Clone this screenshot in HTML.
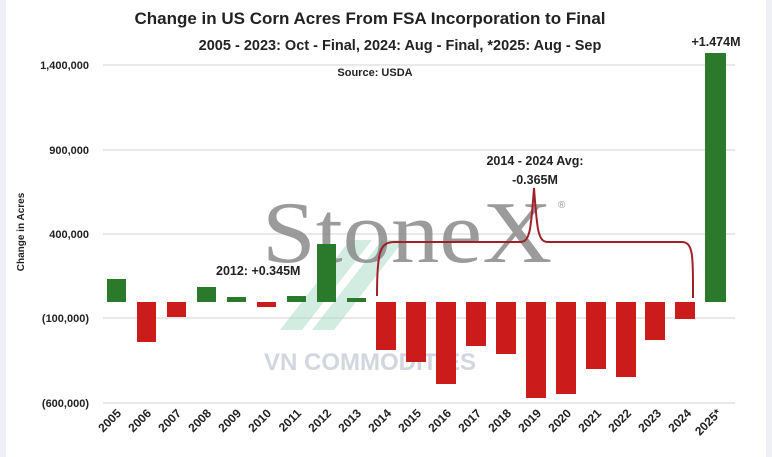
<!DOCTYPE html>
<html><head><style>body{margin:0;background:#fff}svg{display:block}</style></head><body>
<svg width="772" height="457" xmlns="http://www.w3.org/2000/svg" font-family="Liberation Sans, sans-serif">
<rect width="772" height="457" fill="#fff"/>
<rect x="0" y="0" width="6" height="457" fill="#eef0f5"/>
<rect x="766" y="0" width="6" height="457" fill="#eef0f5"/>
<text x="370" y="24" text-anchor="middle" font-size="17" font-weight="bold" fill="#222">Change in US Corn Acres From FSA Incorporation to Final</text>
<text x="400" y="50" text-anchor="middle" font-size="14.5" font-weight="bold" fill="#222">2005 - 2023: Oct - Final, 2024:  Aug - Final, *2025: Aug - Sep</text>
<text x="375" y="76" text-anchor="middle" font-size="11" font-weight="bold" fill="#222">Source: USDA</text>
<g stroke="#dcdcdc" stroke-width="1.2">
<line x1="103" x2="735" y1="65" y2="65"/><line x1="103" x2="735" y1="150" y2="150"/><line x1="103" x2="735" y1="234" y2="234"/><line x1="103" x2="735" y1="318" y2="318"/><line x1="103" x2="735" y1="403" y2="403"/>
</g>
<g font-size="11" font-weight="bold" fill="#222" text-anchor="end">
<text x="89" y="69">1,400,000</text><text x="89" y="154">900,000</text><text x="89" y="238">400,000</text><text x="89" y="322">(100,000)</text><text x="89" y="407">(600,000)</text>
</g>
<text transform="translate(24,232) rotate(-90)" text-anchor="middle" font-size="10" font-weight="bold" fill="#222">Change in Acres</text>
<!-- watermark -->
<g fill="#9ed6c0" opacity="0.45"><polygon points="280,330 302,330 372,240 350,240"/><polygon points="312,330 334,330 404,240 382,240"/></g>
<text x="262" y="262" font-family="Liberation Serif, serif" font-size="88" fill="#8a8a8a" opacity="0.85" textLength="290" lengthAdjust="spacingAndGlyphs">StoneX</text>
<text x="558" y="208" font-size="10" fill="#999">®</text>
<text x="370" y="370" text-anchor="middle" font-size="24" font-weight="bold" fill="#c8ccd8" opacity="0.8">VN COMMODITIES</text>
<!-- bars -->
<g fill="#2b7a2b">
<rect x="107" y="279" width="19" height="23"/><rect x="197" y="287" width="19" height="15"/><rect x="227" y="297" width="19" height="5"/><rect x="287" y="296" width="19" height="6"/><rect x="317" y="244" width="19" height="58"/><rect x="347" y="298" width="19" height="4"/><rect x="705" y="53" width="21" height="249"/>
</g>
<g fill="#cc1b1b">
<rect x="137" y="302" width="19" height="40"/><rect x="167" y="302" width="19" height="15"/><rect x="257" y="302" width="19" height="5"/>
<rect x="376" y="302" width="20" height="48"/><rect x="406" y="302" width="20" height="60"/><rect x="436" y="302" width="20" height="82"/><rect x="466" y="302" width="20" height="44"/><rect x="496" y="302" width="20" height="52"/><rect x="526" y="302" width="20" height="96"/><rect x="556" y="302" width="20" height="92"/><rect x="586" y="302" width="20" height="67"/><rect x="616" y="302" width="20" height="75"/><rect x="645" y="302" width="20" height="38"/><rect x="675" y="302" width="20" height="17"/>
</g>
<!-- bracket -->
<path d="M377,296 C377,250 380,242 395,242 L520,242 C530,242 531,230 534,188 C537,230 538,242 548,242 L682,242 C694,242 693,260 693,298" fill="none" stroke="#a0202a" stroke-width="2"/>
<text x="535" y="165" text-anchor="middle" font-size="12.5" font-weight="bold" fill="#222">2014 - 2024 Avg:</text>
<text x="535" y="184" text-anchor="middle" font-size="12.5" font-weight="bold" fill="#222">-0.365M</text>
<text x="216" y="275" font-size="12.5" font-weight="bold" fill="#222">2012: +0.345M</text>
<text x="716" y="46" text-anchor="middle" font-size="12.5" font-weight="bold" fill="#222">+1.474M</text>
<!-- year labels -->
<g font-size="12" font-weight="bold" fill="#222" text-anchor="end">
<text transform="translate(122,414) rotate(-45)">2005</text><text transform="translate(152,414) rotate(-45)">2006</text><text transform="translate(182,414) rotate(-45)">2007</text><text transform="translate(212,414) rotate(-45)">2008</text><text transform="translate(242,414) rotate(-45)">2009</text><text transform="translate(272,414) rotate(-45)">2010</text><text transform="translate(302,414) rotate(-45)">2011</text><text transform="translate(332,414) rotate(-45)">2012</text><text transform="translate(362,414) rotate(-45)">2013</text><text transform="translate(392,414) rotate(-45)">2014</text><text transform="translate(422,414) rotate(-45)">2015</text><text transform="translate(452,414) rotate(-45)">2016</text><text transform="translate(482,414) rotate(-45)">2017</text><text transform="translate(512,414) rotate(-45)">2018</text><text transform="translate(542,414) rotate(-45)">2019</text><text transform="translate(572,414) rotate(-45)">2020</text><text transform="translate(602,414) rotate(-45)">2021</text><text transform="translate(632,414) rotate(-45)">2022</text><text transform="translate(662,414) rotate(-45)">2023</text><text transform="translate(692,414) rotate(-45)">2024</text><text transform="translate(722,414) rotate(-45)">2025*</text>
</g>
</svg>
</body></html>
